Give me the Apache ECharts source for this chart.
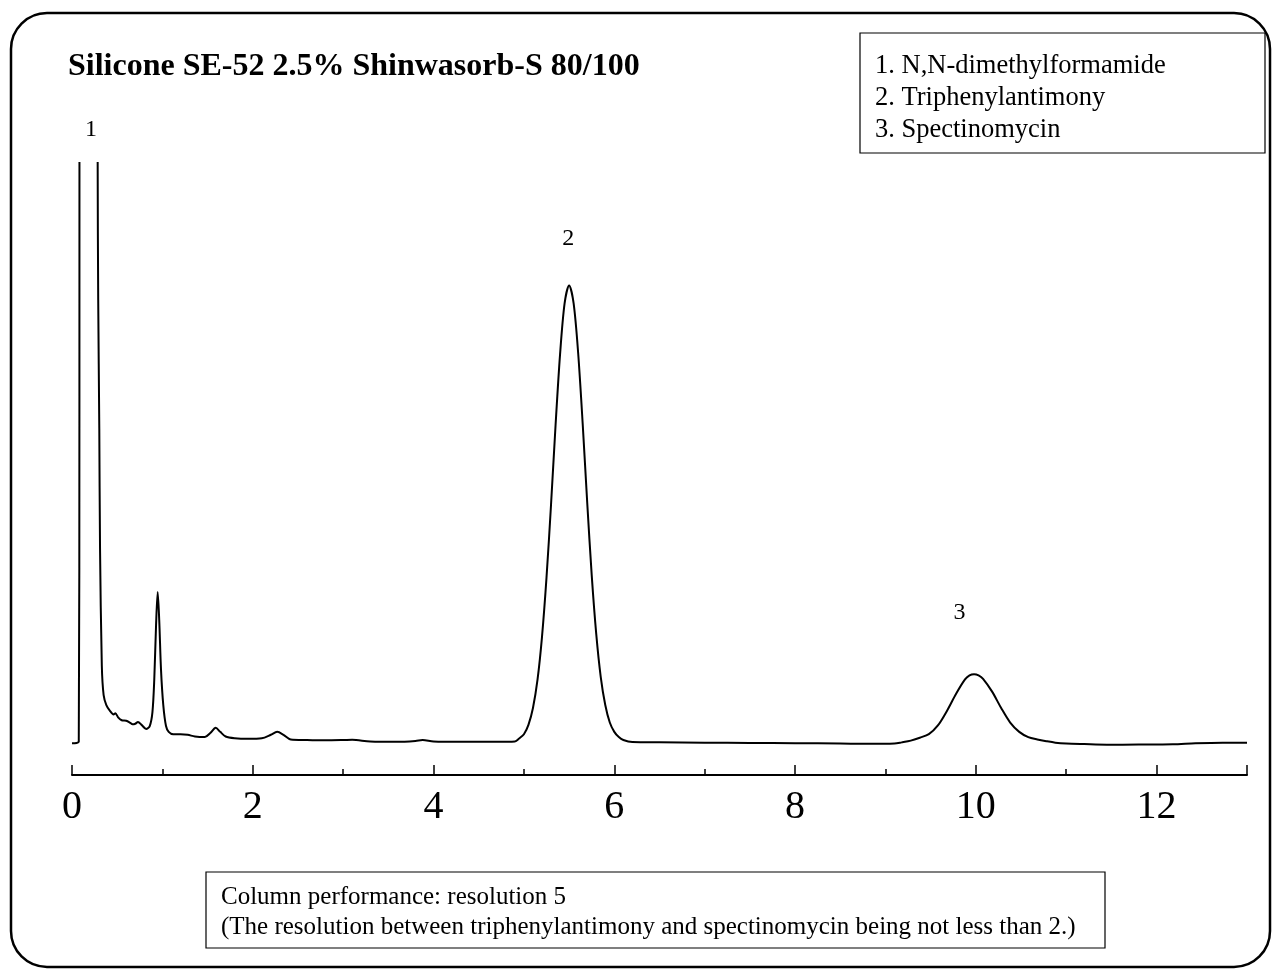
<!DOCTYPE html>
<html>
<head>
<meta charset="utf-8">
<script src="https://cdn.jsdelivr.net/npm/echarts@6/dist/echarts.min.js"></script>
<style>
  html, body { margin: 0; padding: 0; background: #fff; }
  #chart { width: 1274px; height: 973px; }
</style>
</head>
<body>
<div id="chart"></div>
<script>
// retention time (min)
var times = [
  0.00, 0.05, 0.075, 0.082, 0.088, 0.18, 0.276, 0.284, 0.290, 0.302, 0.31, 0.33, 0.35, 0.38, 0.42,
  0.46, 0.48, 0.51, 0.55, 0.60, 0.64, 0.67, 0.70, 0.73, 0.77, 0.82, 0.86, 0.89, 0.91, 0.93,
  0.948, 0.965, 0.985, 1.01, 1.04, 1.07, 1.12, 1.20, 1.28, 1.36, 1.47, 1.53, 1.59, 1.64, 1.70,
  1.80, 1.95, 2.10, 2.20, 2.27, 2.34, 2.42, 2.60, 2.80, 3.00, 3.10, 3.30, 3.60, 3.80, 3.88,
  4.00, 4.30, 4.70, 4.90,
  4.95, 5.00, 5.05, 5.10, 5.15, 5.20, 5.25, 5.30, 5.35, 5.40, 5.45, 5.50, 5.55, 5.60, 5.65,
  5.70, 5.75, 5.80, 5.85, 5.90, 5.95, 6.00, 6.05, 6.10, 6.20, 6.50, 7.00, 7.50, 8.00, 8.50, 8.80,
  9.10, 9.18, 9.28, 9.38, 9.48, 9.58, 9.68, 9.78, 9.88, 9.93, 9.98, 10.03, 10.08, 10.18, 10.28,
  10.38, 10.48, 10.58, 10.68, 10.78, 10.88, 11.00, 11.20, 11.45, 11.80, 12.18, 12.43, 12.73, 13.00
];
// detector signal (arbitrary units)
var signal = [
  0.45, 0.5, 0.7, 60, 400, 900, 400, 100, 76.5, 54.5, 34.1, 13.7, 8.7, 7.0, 6.0,
  5.4, 5.6, 4.9, 4.4, 4.3, 4.0, 3.7, 3.8, 4.1, 3.6, 2.9, 3.4, 5.8, 11.3, 20.7,
  26.4, 21.6, 13.0, 7.0, 3.4, 2.4, 2.0, 2.0, 1.9, 1.6, 1.5, 2.2, 3.1, 2.4, 1.6,
  1.3, 1.2, 1.3, 1.9, 2.4, 1.9, 1.1, 1.0, 0.95, 1.0, 1.05, 0.75, 0.7, 0.85, 1.0,
  0.75, 0.7, 0.7, 0.75,
  1.3, 2.0, 3.6, 6.5, 11.3, 18.7, 28.9, 41.4, 55.0, 67.2, 75.9, 79.0, 75.9, 67.4, 55.3,
  41.8, 29.3, 19.2, 11.8, 7.0, 4.0, 2.4, 1.5, 1.0, 0.65, 0.6, 0.55, 0.5, 0.45, 0.4, 0.35,
  0.4, 0.6, 0.9, 1.4, 2.0, 3.5, 6.0, 8.9, 11.4, 12.1, 12.3, 12.1, 11.5, 9.3, 6.5,
  4.0, 2.4, 1.5, 1.1, 0.8, 0.55, 0.4, 0.3, 0.2, 0.22, 0.27, 0.45, 0.55, 0.55
];
// peak numbers and where they sit
var peakNames = ['1', '2', '3'];
var peakTimes = [0.21, 5.49, 9.82];
var peakLabelY = [105.7, 87.0, 22.8];

var compounds = ['1. N,N-dimethylformamide', '2. Triphenylantimony', '3. Spectinomycin'];
var noteLines = [
  'Column performance: resolution 5',
  '(The resolution between triphenylantimony and spectinomycin being not less than 2.)'
];

var serif = '"Liberation Serif", "Times New Roman", serif';

var lineData = [];
for (var i = 0; i < times.length; i++) {
  lineData.push([times[i], signal[i]]);
}
var peakData = [];
for (var p = 0; p < peakNames.length; p++) {
  peakData.push({ name: peakNames[p], value: [peakTimes[p], peakLabelY[p]] });
}

var chart = echarts.init(document.getElementById('chart'));
chart.setOption({
  animation: false,
  backgroundColor: '#fff',
  grid: { left: 72, right: 27, top: 163, bottom: 198 },
  xAxis: [{
    type: 'value', min: 0, max: 13, interval: 2,
    axisLine: { onZero: false, lineStyle: { color: '#000', width: 2 } },
    axisTick: { inside: true, length: 10, lineStyle: { color: '#000', width: 1.5 } },
    splitLine: { show: false },
    axisLabel: {
      margin: 12, color: '#000', fontFamily: serif, fontSize: 40,
      formatter: function(v) { return v % 2 === 0 ? String(v) : ''; }
    }
  }, {
    // minor ticks every minute
    type: 'value', min: 0, max: 13, interval: 1, position: 'bottom',
    axisLine: { show: false, onZero: false },
    axisTick: { inside: true, length: 6, lineStyle: { color: '#000', width: 1.5 } },
    splitLine: { show: false },
    axisLabel: { show: false }
  }],
  yAxis: {
    type: 'value', min: -5, max: 100, show: false
  },
  series: [{
    type: 'line',
    data: lineData,
    showSymbol: false,
    smooth: 0.3,
    clip: true,
    lineStyle: { color: '#000', width: 2, join: 'round' }
  }, {
    type: 'scatter',
    data: peakData,
    symbolSize: 0,
    clip: false,
    itemStyle: { opacity: 1 },
    label: {
      show: true, position: 'inside', formatter: '{b}',
      color: '#000', fontFamily: serif, fontSize: 24
    }
  }],
  graphic: [{
    type: 'rect',
    shape: { x: 11, y: 13, width: 1259, height: 954, r: 36 },
    style: { fill: null, stroke: '#000', lineWidth: 2.5 }
  }, {
    type: 'text',
    style: {
      x: 68, y: 67, text: 'Silicone SE-52 2.5% Shinwasorb-S 80/100',
      fontFamily: serif, fontSize: 32, fontWeight: 'bold', fill: '#000',
      verticalAlign: 'middle'
    }
  }, {
    type: 'rect',
    shape: { x: 860, y: 33, width: 405, height: 120 },
    style: { fill: '#fff', stroke: '#000', lineWidth: 1.2 }
  }, {
    type: 'text',
    style: {
      x: 875, y: 50, text: compounds.join('\n'), lineHeight: 32,
      fontFamily: serif, fontSize: 26.5, fill: '#000', verticalAlign: 'top'
    }
  }, {
    type: 'rect',
    shape: { x: 206, y: 872, width: 899, height: 76 },
    style: { fill: '#fff', stroke: '#000', lineWidth: 1.2 }
  }, {
    type: 'text',
    style: {
      x: 221, y: 882, text: noteLines.join('\n'), lineHeight: 30,
      fontFamily: serif, fontSize: 25, fill: '#000', verticalAlign: 'top'
    }
  }]
});
</script>
</body>
</html>
